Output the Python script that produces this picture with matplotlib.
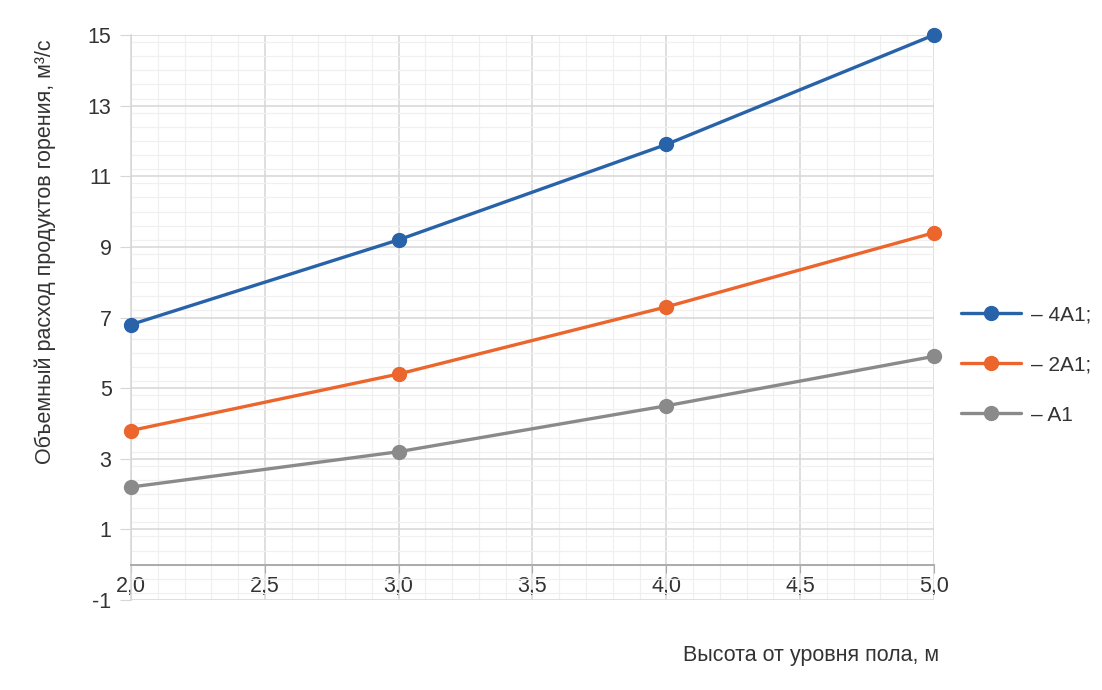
import numpy as np
import matplotlib
matplotlib.use("Agg")
import matplotlib.pyplot as plt
from matplotlib.ticker import MultipleLocator, FuncFormatter

plt.rcParams['font.family'] = ['Liberation Sans', 'DejaVu Sans']
plt.rcParams['axes.unicode_minus'] = False

# heights, m
heights = [2.0, 3.0, 4.0, 5.0]
# volume flow of combustion products, m3/s
flow_4a1 = [6.8, 9.2, 11.9, 15.0]
flow_2a1 = [3.8, 5.4, 7.3, 9.4]
flow_a1 = [2.2, 3.2, 4.5, 5.9]
series_labels = ['– 4A1;', '– 2A1;', '– A1']
colors = ['#2862a9', '#ec652c', '#8a8a8a']

fig = plt.figure(figsize=(11.02, 6.90), dpi=100)
ax = fig.add_axes([0.1189, 0.1304, 0.7286, 0.8189])

for ys, lab, c in zip([flow_4a1, flow_2a1, flow_a1], series_labels, colors):
    ax.plot(heights, ys, color=c, lw=2.4, marker='o', ms=10, label=lab,
            solid_capstyle='round', zorder=3, clip_on=False)

ax.set_xlim(2.0, 5.0)
ax.set_ylim(-1, 15)
ax.xaxis.set_major_locator(MultipleLocator(0.5))
ax.xaxis.set_minor_locator(MultipleLocator(0.1))
ax.yaxis.set_minor_locator(MultipleLocator(0.4))
ax.set_yticks(np.arange(-1, 16, 2))
ax.xaxis.set_major_formatter(FuncFormatter(lambda v, p: f'{v:.1f}'.replace('.', ',')))

ax.grid(which='major', color='#d6d6d6', lw=1.1, zorder=0)
ax.grid(which='minor', color='#f0f0f0', lw=0.9, zorder=0)

for s in ['top', 'right']:
    ax.spines[s].set_visible(False)
ax.spines['left'].set_color('#d6d6d6')
ax.spines['left'].set_linewidth(1.1)
ax.spines['bottom'].set_position(('data', 0))
ax.spines['bottom'].set_color('#ababab')
ax.spines['bottom'].set_linewidth(1.4)

ax.tick_params(axis='y', which='major', length=8, color='#d6d6d6', labelsize=15.5,
               labelcolor='#333333', pad=6)
ax.tick_params(axis='x', which='major', length=6, color='#ababab', labelsize=15.5,
               labelcolor='#333333', pad=2)
ax.tick_params(which='minor', length=0)

fig.text(45 / 1102, 1 - 252 / 690, 'Объемный расход продуктов горения, м³/с',
         rotation=90, ha='center', va='center', fontsize=15.5, color='#333333')
fig.text(811 / 1102, 1 - 655 / 690, 'Высота от уровня пола, м',
         ha='center', va='center', fontsize=15.5, color='#333333')

ax.legend(loc='center left', bbox_to_anchor=(942 / 1102, 1 - 365 / 690),
          bbox_transform=fig.transFigure, frameon=False, fontsize=15,
          handlelength=2.9, labelspacing=1.5, handletextpad=0.45,
          labelcolor='#333333')

fig.savefig('out.png', dpi=100, facecolor='white')
